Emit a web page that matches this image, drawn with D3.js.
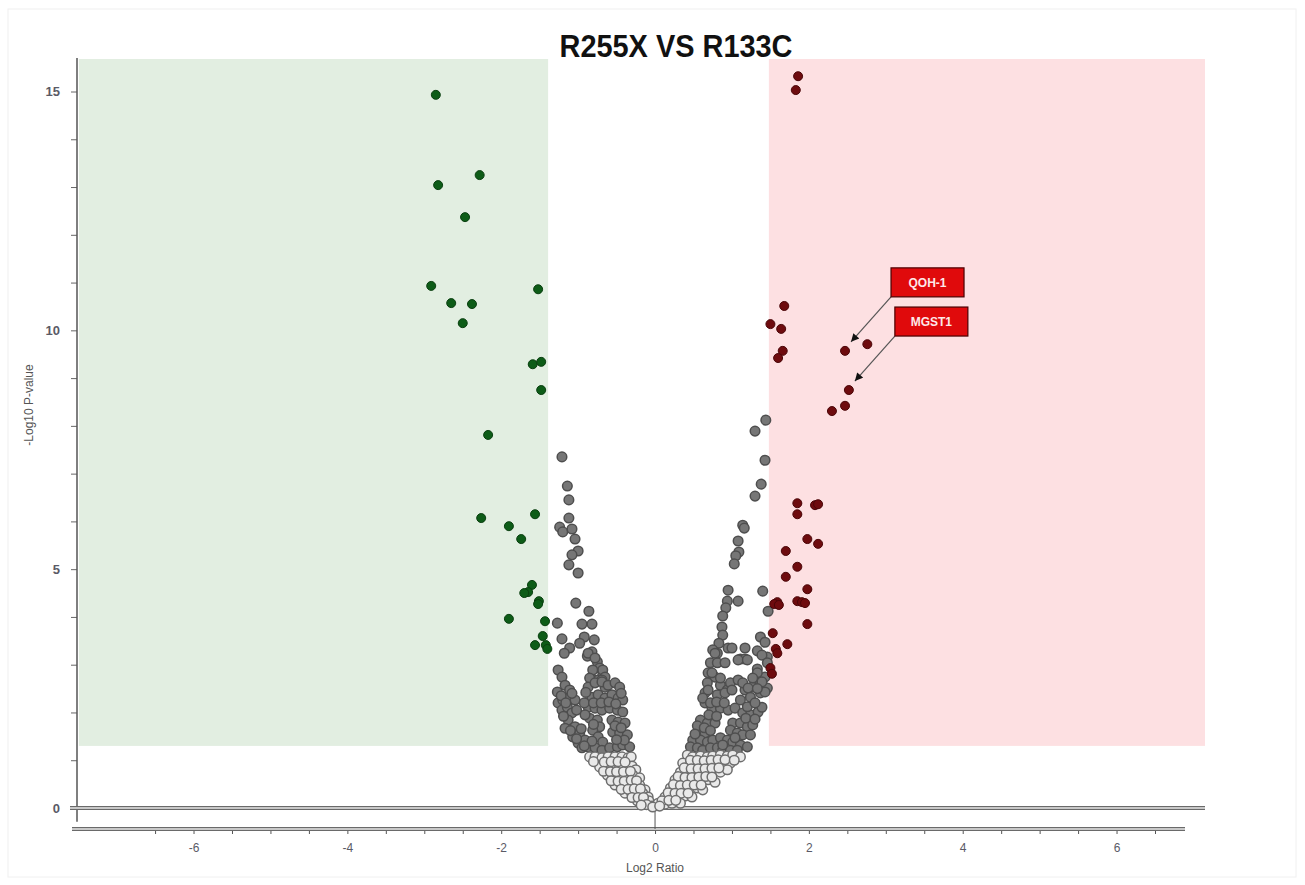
<!DOCTYPE html>
<html>
<head>
<meta charset="utf-8">
<script src="https://cdnjs.cloudflare.com/ajax/libs/d3/7.8.5/d3.min.js"></script>
<style>
  body { margin: 0; background: #fff; }
  text { font-family: "Liberation Sans Narrow", "Liberation Sans", Arial, sans-serif; }
</style>
</head>
<body>
<div id="chart"></div>
<script>
// chart values
var titleText = "R255X VS R133C"
var xLabel = "Log2 Ratio"
var yLabel = "-Log10 P-value"

var downLimit = -1.39   // left edge of green band
var upLimit = 1.48      // right edge of red band
var pLimit = 1.3        // bottom of both bands
var lightBelow = 1.2    // grey dots below this are drawn hollow

var xTickMajor = [-6, -4, -2, 0, 2, 4, 6]
var yTickMajor = [0, 5, 10, 15]

// significant down (green)
var downPts = [[-2.85,14.93],[-2.28,13.25],[-2.82,13.04],[-2.47,12.37],[-2.91,10.93],[-1.52,10.86],[-2.65,10.57],
  [-2.38,10.55],[-2.50,10.15],[-1.59,9.29],[-1.48,9.34],[-1.48,8.75],[-2.17,7.81],[-2.26,6.07],[-1.56,6.15],
  [-1.90,5.90],[-1.74,5.63],[-1.60,4.67],[-1.65,4.52],[-1.70,4.50],[-1.51,4.33],[-1.52,4.27],[-1.90,3.96],
  [-1.43,3.91],[-1.46,3.60],[-1.56,3.41],[-1.42,3.41],[-1.40,3.33]]

// significant up (red)
var upPts = [[1.86,15.32],[1.83,15.03],[1.68,10.51],[1.50,10.13],[1.64,10.03],[1.66,9.57],[1.60,9.42],[2.47,9.57],
  [2.76,9.71],[2.52,8.75],[2.47,8.42],[2.30,8.31],[1.85,6.38],[2.08,6.34],[2.12,6.36],[1.85,6.15],[1.98,5.63],
  [2.12,5.53],[1.70,5.38],[1.85,5.05],[1.70,4.84],[1.98,4.58],[1.59,4.31],[1.55,4.27],[1.61,4.25],[1.85,4.33],
  [1.91,4.31],[1.95,4.29],[1.98,3.85],[1.53,3.66],[1.72,3.43],[1.57,3.33],[1.59,3.24],[1.50,2.93],[1.52,2.81]]

// not significant (grey)
var grayPts = [
  // left arm, upper
  [-1.21,7.35],[-1.14,6.74],[-1.12,6.45],[-1.12,6.07],[-1.24,5.88],[-1.20,5.78],[-1.08,5.84],[-1.04,5.63],
  [-1.00,5.38],[-1.08,5.30],[-1.12,5.09],[-1.00,4.92],[-1.03,4.29],[-0.86,4.12],[-1.27,3.87],[-0.95,3.85],
  [-0.82,3.85],[-1.21,3.54],[-0.92,3.58],[-0.98,3.45],[-0.79,3.52],[-1.11,3.35],[-1.18,3.24],[-0.82,3.27],
  [-0.88,3.18],[-0.75,3.06],[-0.72,2.93],[-1.26,2.89],[-1.21,2.74],[-0.82,2.70],[-0.68,2.78],[-0.74,2.68],
  [-1.17,2.57],[-0.65,2.53],[-0.87,3.24],[-0.78,3.14],[-0.68,2.89],[-0.81,2.89],[-0.65,2.74],[-0.69,2.68],
  [-0.85,2.72],
  // left arm, dense
  [-1.27,2.43],[-1.26,2.20],[-1.20,2.26],[-1.13,2.30],[-1.21,2.05],[-1.14,2.11],[-1.08,1.99],[-1.13,1.84],
  [-1.04,1.70],[-1.07,1.49],[-1.00,1.36],[-0.95,1.26],[-1.11,2.47],[-1.04,2.26],[-0.98,1.57],[-1.17,1.67],
  [-0.91,1.42],[-0.87,2.53],[-0.78,2.62],[-0.69,2.64],[-0.61,2.57],[-0.52,2.62],[-0.46,2.53],[-0.82,2.32],
  [-0.74,2.37],[-0.65,2.30],[-0.56,2.37],[-0.48,2.30],[-0.42,2.26],[-0.87,2.11],[-0.78,2.09],[-0.69,2.05],
  [-0.59,2.09],[-0.49,2.05],[-0.42,2.01],[-0.85,1.88],[-0.75,1.84],[-0.72,1.70],[-0.56,1.84],[-0.48,1.80],
  [-0.39,1.78],[-0.81,1.63],[-0.74,1.49],[-0.68,1.38],[-0.55,1.59],[-0.46,1.57],[-0.36,1.53],[-0.87,1.28],
  [-0.78,1.26],[-0.69,1.21],[-0.59,1.26],[-0.49,1.28],[-0.42,1.32],[-0.33,1.28],
  [-1.22,2.35],[-1.16,2.20],[-1.08,2.40],[-1.02,2.05],[-1.19,1.92],[-1.10,1.62],[-1.02,1.45],[-0.96,1.66],
  [-0.92,2.20],[-0.90,2.42],[-0.91,1.95],[-0.80,2.20],[-0.70,2.20],[-0.60,2.22],[-0.51,2.18],[-0.44,2.40],
  [-0.80,1.75],[-0.52,1.72],[-0.44,1.68],[-0.40,1.42],[-0.50,1.43],[-0.82,1.40],[-0.92,1.30],
  // left arm, low
  [-0.85,1.07],[-0.78,1.07],[-0.69,1.05],[-0.61,1.07],[-0.52,1.07],[-0.43,1.07],[-0.35,1.05],[-0.31,1.07],
  [-0.72,0.86],[-0.62,0.86],[-0.55,0.86],[-0.46,0.86],[-0.36,0.86],[-0.30,0.88],[-0.25,0.80],[-0.62,0.69],
  [-0.55,0.65],[-0.46,0.67],[-0.36,0.65],[-0.29,0.69],[-0.20,0.63],[-0.52,0.48],[-0.43,0.46],[-0.35,0.48],
  [-0.26,0.50],[-0.20,0.48],[-0.13,0.38],[-0.39,0.31],[-0.30,0.29],[-0.22,0.31],[-0.16,0.31],[-0.09,0.23],
  [-0.23,0.15],[-0.16,0.13],[-0.08,0.15],[-0.04,0.04],
  [-0.80,0.97],[-0.66,0.96],[-0.57,0.97],[-0.48,0.97],[-0.39,0.96],[-0.67,0.77],[-0.58,0.76],[-0.50,0.76],
  [-0.41,0.76],[-0.32,0.77],[-0.57,0.57],[-0.48,0.56],[-0.40,0.56],[-0.31,0.58],[-0.24,0.57],[-0.44,0.39],
  [-0.35,0.39],[-0.27,0.40],[-0.19,0.40],[-0.30,0.22],[-0.22,0.22],[-0.15,0.22],[-0.11,0.07],[-0.18,0.06],
  // right arm, upper
  [1.44,8.12],[1.30,7.89],[1.43,7.28],[1.38,6.78],[1.30,6.53],[1.14,5.92],[1.16,5.86],[1.08,5.59],[1.09,5.36],
  [1.05,5.28],[1.03,5.11],[0.95,4.56],[1.40,4.54],[0.94,4.33],[1.08,4.33],[0.92,4.19],[0.88,4.02],[1.47,4.12],
  [0.87,3.79],[0.88,3.62],[0.83,3.45],[0.95,3.35],[1.00,3.35],[1.17,3.35],[1.37,3.58],[1.43,3.47],[1.33,3.29],
  [0.81,3.24],[1.46,3.16],[1.11,3.12],[1.17,3.12],[1.33,2.91],[1.43,2.74],[1.37,2.62],[1.26,2.53],[1.46,2.51],
  [0.98,2.51],[1.17,2.47],[0.75,3.31],[0.72,3.04],[0.81,3.04],[0.69,2.83],[0.78,2.74],[0.68,2.62],[0.85,2.57],
  [0.94,2.47],[0.65,2.41],
  // right arm, dense
  [0.78,3.24],[0.91,3.04],[1.08,3.10],[1.20,3.10],[1.39,3.20],[1.46,3.04],[1.33,2.83],[1.39,2.64],[0.74,2.83],
  [0.85,2.72],[0.98,2.62],[1.08,2.68],[1.14,2.62],[1.21,2.51],[0.69,2.47],[0.81,2.37],[0.91,2.41],[1.00,2.47],
  [1.11,2.26],[1.24,2.32],[1.37,2.41],[1.43,2.43],[0.65,2.20],[0.74,2.09],[0.85,2.09],[0.95,2.05],[1.04,2.09],
  [1.14,1.99],[1.24,1.95],[1.34,2.01],[1.39,2.11],[0.59,1.84],[0.68,1.78],[0.78,1.78],[1.01,1.78],[1.11,1.78],
  [1.20,1.70],[1.27,1.74],[0.59,1.63],[0.65,1.57],[0.98,1.63],[1.07,1.57],[1.14,1.53],[1.24,1.53],[0.49,1.42],
  [0.59,1.42],[0.68,1.38],[0.75,1.42],[0.85,1.47],[0.94,1.42],[1.01,1.38],[1.11,1.32],[1.20,1.28],[0.46,1.28],
  [0.55,1.26],[0.62,1.21],[0.72,1.26],[0.81,1.26],[0.88,1.21],[0.98,1.21],[1.07,1.21],
  [0.62,2.30],[0.72,2.20],[0.80,2.22],[0.90,2.20],[0.70,1.95],[0.80,1.92],[0.55,1.72],[0.64,1.68],[0.72,1.62],
  [1.18,1.88],[1.30,1.86],[1.20,2.12],[1.30,2.20],[1.27,2.72],[1.33,2.50],[0.52,1.55],[0.88,1.32],[1.04,1.47],
  // right arm, low
  [0.42,1.11],[0.49,1.07],[0.59,1.09],[0.68,1.07],[0.75,1.09],[0.85,1.11],[0.94,1.09],[1.01,1.11],[1.11,1.07],
  [0.36,0.94],[0.46,0.90],[0.55,0.92],[0.62,0.90],[0.72,0.92],[0.81,0.94],[0.88,0.92],[0.98,0.94],[0.33,0.75],
  [0.42,0.73],[0.49,0.73],[0.59,0.73],[0.68,0.73],[0.75,0.75],[0.85,0.75],[0.94,0.80],[0.26,0.59],[0.35,0.54],
  [0.43,0.57],[0.52,0.54],[0.61,0.57],[0.69,0.59],[0.78,0.54],[0.20,0.42],[0.29,0.38],[0.36,0.40],[0.46,0.38],
  [0.55,0.42],[0.62,0.38],[0.13,0.23],[0.22,0.23],[0.30,0.23],[0.39,0.25],[0.48,0.23],[0.04,0.10],[0.13,0.08],
  [0.22,0.10],[0.33,0.10],[-0.03,0.02],
  [0.46,1.00],[0.55,1.00],[0.64,0.99],[0.73,1.00],[0.82,1.01],[0.91,1.01],[1.03,1.00],[0.38,0.84],[0.47,0.82],
  [0.56,0.82],[0.65,0.82],[0.74,0.83],[0.83,0.84],[0.30,0.66],[0.39,0.64],[0.48,0.64],[0.57,0.65],[0.66,0.66],
  [0.74,0.65],[0.24,0.49],[0.33,0.47],[0.42,0.48],[0.51,0.48],[0.60,0.48],[0.17,0.32],[0.26,0.31],[0.34,0.31],
  [0.43,0.31],[0.09,0.15],[0.18,0.16],[0.27,0.16],[0.06,0.04]]

var labelNames = ["QOH-1", "MGST1"]
var labelPts = [[2.47, 9.57], [2.52, 8.75]]

var svgSize = { width: 1305, height: 885 }

var svg = d3.select("#chart").append("svg")
  .attr("width", svgSize.width)
  .attr("height", svgSize.height)

svg.append("rect")
  .attr("x", 8).attr("y", 9).attr("width", 1288).attr("height", 868)
  .attr("fill", "none").attr("stroke", "#f0f0f0")

var xScale = d3.scaleLinear().domain([-7.58, 6.89]).range([72, 1185])
var yScale = d3.scaleLinear().domain([0, 15]).range([808, 91.5])
var yTop = 15.68

// bands
svg.append("rect")
  .attr("x", xScale(-7.49)).attr("y", yScale(yTop))
  .attr("width", xScale(downLimit) - xScale(-7.49))
  .attr("height", yScale(pLimit) - yScale(yTop))
  .attr("fill", "#e2eee1")
svg.append("rect")
  .attr("x", xScale(upLimit)).attr("y", yScale(yTop))
  .attr("width", xScale(7.15) - xScale(upLimit))
  .attr("height", yScale(pLimit) - yScale(yTop))
  .attr("fill", "#fde0e2")

// title
svg.append("text")
  .attr("x", 676).attr("y", 57)
  .attr("text-anchor", "middle")
  .attr("font-size", 32).attr("font-weight", "bold")
  .attr("textLength", 233).attr("lengthAdjust", "spacingAndGlyphs")
  .attr("fill", "#111")
  .text(titleText)

// y axis
var yAxis = svg.append("g")
  .attr("transform", `translate(${77}, 0)`)
  .call(d3.axisLeft(yScale).tickValues(d3.range(0, 16)).tickSize(6)
    .tickFormat(d => yTickMajor.includes(d) ? d : ""))
yAxis.select(".domain").remove()
yAxis.selectAll(".tick line").attr("stroke", "#666")
yAxis.selectAll(".tick text")
  .attr("x", -17).attr("font-size", 13).attr("font-weight", "bold")
  .attr("fill", "#5a5a66").attr("font-family", "Liberation Sans, Arial, sans-serif")
svg.append("line")
  .attr("x1", 77).attr("x2", 77)
  .attr("y1", yScale(yTop) - 1).attr("y2", yScale(-0.29))
  .attr("stroke", "#555").attr("stroke-width", 1.5)

// x axis, drawn a bit below the zero line
var xAxisY = 829
var xAxis = svg.append("g")
  .attr("transform", `translate(0, ${xAxisY})`)
  .call(d3.axisBottom(xScale).tickValues(d3.range(-6.5, 7, 0.5)).tickSize(5)
    .tickFormat(d => xTickMajor.includes(d) ? String(d) : ""))
xAxis.select(".domain").remove()
xAxis.selectAll(".tick line").attr("stroke", "#555")
xAxis.selectAll(".tick text")
  .attr("y", 14).attr("font-size", 12)
  .attr("fill", "#5a5a66")

function doubleLine(x1, x2, y) {
  svg.append("line").attr("x1", x1).attr("x2", x2).attr("y1", y).attr("y2", y)
    .attr("stroke", "#6a6a6a").attr("stroke-width", 4)
  svg.append("line").attr("x1", x1).attr("x2", x2).attr("y1", y).attr("y2", y)
    .attr("stroke", "#e8e8e8").attr("stroke-width", 1.3)
}
doubleLine(xScale(-7.58), xScale(6.89), xAxisY)
doubleLine(70, xScale(7.15), yScale(0))

svg.append("line")
  .attr("x1", xScale(0)).attr("x2", xScale(0))
  .attr("y1", yScale(0) - 4).attr("y2", xAxisY)
  .attr("stroke", "#555").attr("stroke-width", 1)

// axis titles
svg.append("text")
  .attr("x", 655).attr("y", 872)
  .attr("text-anchor", "middle").attr("font-size", 12)
  .attr("fill", "#555")
  .text(xLabel)
svg.append("text")
  .attr("transform", "translate(33, 405) rotate(-90)")
  .attr("text-anchor", "middle").attr("font-size", 12)
  .attr("fill", "#555")
  .text(yLabel)

// points
var radius = 4.8
var dots = svg.append("g")

dots.selectAll("circle.gray").data(grayPts).enter().append("circle")
  .attr("class", "gray")
  .attr("cx", d => xScale(d[0]))
  .attr("cy", d => yScale(d[1]))
  .attr("r", radius)
  .attr("fill", d => d[1] < lightBelow ? "#e9e9e9" : "#767676")
  .attr("stroke", d => d[1] < lightBelow ? "#6e6e6e" : "#4e4e4e")
  .attr("stroke-width", 1.5)

dots.selectAll("circle.down").data(downPts).enter().append("circle")
  .attr("class", "down")
  .attr("cx", d => xScale(d[0]))
  .attr("cy", d => yScale(d[1]))
  .attr("r", 4.5)
  .attr("fill", "#0d5c17").attr("stroke", "#0a3f10").attr("stroke-width", 1)

dots.selectAll("circle.up").data(upPts).enter().append("circle")
  .attr("class", "up")
  .attr("cx", d => xScale(d[0]))
  .attr("cy", d => yScale(d[1]))
  .attr("r", 4.5)
  .attr("fill", "#6e0b0e").attr("stroke", "#4a0608").attr("stroke-width", 1)

// callouts
svg.append("defs").append("marker")
  .attr("id", "head").attr("viewBox", "0 0 10 10")
  .attr("refX", 10).attr("refY", 5)
  .attr("markerWidth", 10).attr("markerHeight", 8)
  .attr("markerUnits", "userSpaceOnUse")
  .attr("orient", "auto")
  .append("path").attr("d", "M0,0 L10,5 L0,10 z").attr("fill", "#111")

var boxW = 73, boxH = 29
labelPts.forEach((p, i) => {
  var px = xScale(p[0]), py = yScale(p[1])
  var bx = px + 46, by = py - 54   // lower-left corner of box
  svg.append("line")
    .attr("x1", bx).attr("y1", by)
    .attr("x2", px + 6).attr("y2", py - 9)
    .attr("stroke", "#555").attr("stroke-width", 1.2)
    .attr("marker-end", "url(#head)")
  svg.append("rect")
    .attr("x", bx).attr("y", by - boxH)
    .attr("width", boxW).attr("height", boxH)
    .attr("fill", "#e00a0c").attr("stroke", "#4a0000").attr("stroke-width", 1.2)
  svg.append("text")
    .attr("x", bx + boxW / 2).attr("y", by - boxH / 2 + 4.5)
    .attr("text-anchor", "middle")
    .attr("font-size", 12).attr("font-weight", "bold")
    .attr("font-family", "Open Sans, Liberation Sans, sans-serif")
    .attr("fill", "#fde8e8")
    .text(labelNames[i])
})
</script>
</body>
</html>
